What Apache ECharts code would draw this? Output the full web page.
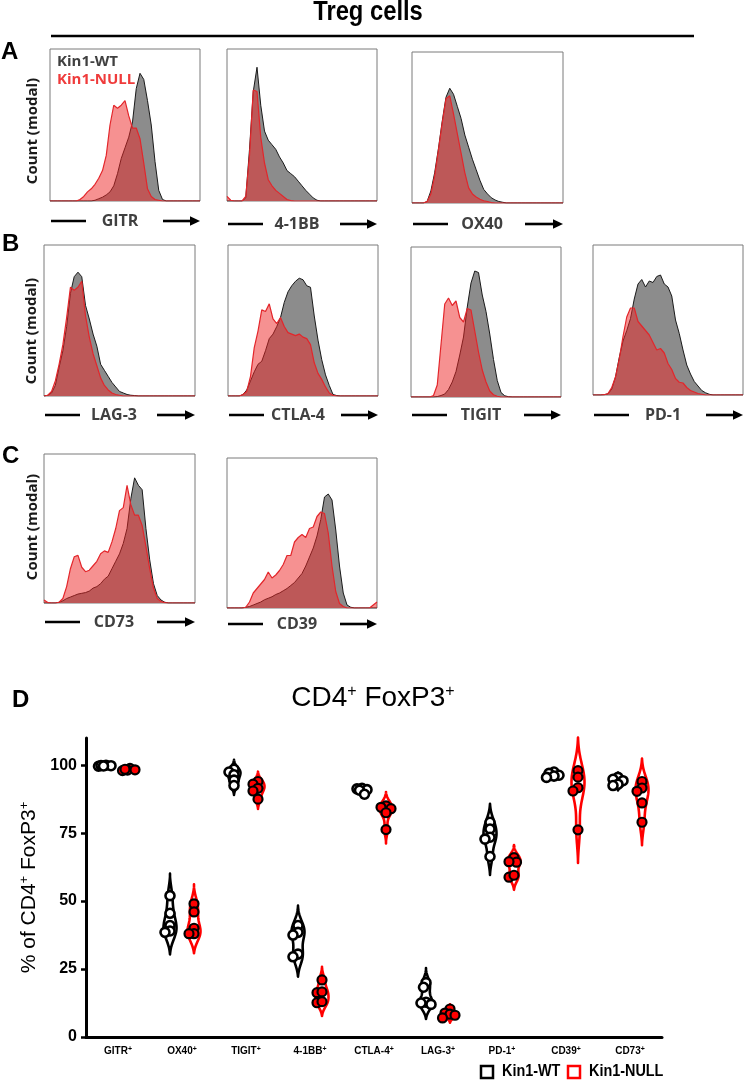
<!DOCTYPE html>
<html><head><meta charset="utf-8">
<script src="https://cdn.jsdelivr.net/npm/echarts@6/dist/echarts.min.js"></script>
<style>html,body{margin:0;padding:0;background:#fff}#c{width:748px;height:1080px}</style>
</head><body><div id="c"></div>
<script>
// ---------------- DATA ----------------
// histogram bin positions (fluorescence, % of plotted range)
const HIST_BINS = [0,2.5,5,7.5,10,12.5,15,17.5,20,22.5,25,27.5,30,32.5,35,37.5,40,42.5,45,47.5,50,52.5,55,57.5,60,62.5,65,67.5,70,72.5,75,77.5,80,82.5,85,87.5,90,92.5,95,97.5,100];
// Count (modal), % of panel height
const GITR_WT   = [0,0,0,0,0,0,0,0,0,0,0,0,0.5,1.5,2.5,4,6,10,18,28,35,42,52,74,84,80,66,50,26,7,1,0,0,0,0,0,0,0,0,0,0];
const GITR_NULL = [0,0,0,0,0,0,0,0,1,3,6,8,11,15,20,30,50,63,61,63,66,56,48,48,41,25,8,3,1,0.5,0,0,0,0,0,0,0,0,0,0,0];
const BB41_WT   = [0,0,0,0,0,2,34,72,88,63,46,40,37,34,29,25,20,18,16,13,10,7,4.5,2,0.5,0,0,0,0,0,0,0,0,0,0,0,0,0,0,0,0];
const BB41_NULL = [3,0.5,0,0,0,3,30,73,72,42,25,14,10,7,5,3,1,0.3,0,0,0,0,0,0,0,0,0,0,0,0,0,0,0,0,0,0,0,0,0,0,0];
const OX40_WT   = [0,0,0,0,1,8,20,36,54,70,76,72,64,56,45,37,29,22,15,9,6,3.5,2,1,0.5,0,0,0,0,0,0,0,0,0,0,0,0,0,0,0,0];
const OX40_NULL = [0,0,0,0,1,6,18,35,53,69,71,59,46,33,20,10,6,4,2.5,1.5,1,0.3,0,0,0,0,0,0,0,0,0,0,0,0,0,0,0,0,0,0,0];
const LAG3_WT   = [0,0.5,2,7,19,30,46,68,79,82,79,60,51,41,33,21,17,13,9,6,3,2,1,0.5,0.3,0,0,0,0,0,0,0,0,0,0,0,0,0,0,0,0];
const LAG3_NULL = [0,0.5,3,10,21,34,52,72,70,72,76,53,39,28,20,12,7,4,2,1,0.5,0,0,0,0,0,0,0,0,0,0,0,0,0,0,0,0,0,0,0,0];
const CTLA4_WT  = [0,0,0,0,1,4,10,16,21,23,30,38,41,46,52,62,69,73,76,78,77,73,72,53,37,24,14,7,1,0.3,0,0,0,0,0,0,0,0,0,0,0];
const CTLA4_NULL= [0,0,0,0,1,3,13,32,43,57,56,61,51,48,52,46,42,41,40,41,39,38,34,22,15,11,6,2,0.5,0,0,0,0,0,0,0,0,0,0,0,0];
const TIGIT_WT  = [0,0,0,0,0,0,0,0.3,1,2,5,10,17,28,40,60,76,84,83,68,57,42,25,11,3,0.8,0.2,0,0,0,0,0,0,0,0,0,0,0,0,0,0];
const TIGIT_NULL= [0,0,0,0,0,0,1,8,35,62,66,61,64,53,50,59,58,44,30,18,10,4,1.5,0.5,0,0,0,0,0,0,0,0,0,0,0,0,0,0,0,0,0];
const PD1_WT    = [0,0,0,0.2,0.8,4,12,25,36,43,51,64,74,77,72,76,75,79,80,74,72,66,50,41,30,20,14,9,6,3,1.5,0.5,0,0,0,0,0,0,0,0,0];
const PD1_NULL  = [0,0,0,0.2,1,5,12,24,39,52,58,58,49,46,43,40,35,30,31,28,21,17,11,8.5,8,5,3,2,1,0.5,0,0,0,0,0,0,0,0,0,0,0];
const CD73_WT   = [0,0,0,0,0.5,1.5,3,4,5,6,6.5,7,8,10,11,13,16,18,23,28,33,40,50,70,84,79,76,50,29,13,5,2,0.5,0,0,0,0,0,0,0,0];
const CD73_NULL = [2,0.3,0,0,0.5,3,11,23,31,32,24,21,22,25,28,33,35,34,41,50,62,64,79,66,59,59,52,38,23,10,3,1,0.3,0,0,0,0,0,0,0,0];
const CD39_WT   = [0,0,0,0,0,0.5,1,2,3,4,5.5,6.5,7.5,9,10,11.5,13,15,17,20,23,28,34,40,48,59,74,76,72,52,28,10,2,0.5,0,0,0,0,0,0,0];
const CD39_NULL = [0,0,0,0,0,0.5,4,10,13,16,19,24,20,22,25,29,35,35,44,47,49,47,53,54,61,64,63,50,28,11,3,1,0,0,0,0,0,0,0,2,4];

const HIST_NAMES = ['GITR','4-1BB','OX40','LAG-3','CTLA-4','TIGIT','PD-1','CD73','CD39'];
const HIST_WT    = [GITR_WT,BB41_WT,OX40_WT,LAG3_WT,CTLA4_WT,TIGIT_WT,PD1_WT,CD73_WT,CD39_WT];
const HIST_NULL  = [GITR_NULL,BB41_NULL,OX40_NULL,LAG3_NULL,CTLA4_NULL,TIGIT_NULL,PD1_NULL,CD73_NULL,CD39_NULL];

// Panel D: % of CD4+ FoxP3+
const D_CATEGORIES = ['GITR','OX40','TIGIT','4-1BB','CTLA-4','LAG-3','PD-1','CD39','CD73'];
const D_TICKS = [0,25,50,75,100];
const D_WT = [
  [100,99.8,99.6,99.9,99.7],
  [52,45.5,41,39,38.5],
  [98.5,97.5,96.5,94.5,92.5],
  [41,38.5,37.5,30.5,29.5],
  [91.5,91.3,91,90.8,89.3],
  [20,18.3,12.8,12,12.5],
  [79,76.5,73.5,72.8,66.4],
  [97.5,97,96.3,96,95.5],
  [95.5,94.8,94.3,93,92.5]
];
const D_NULL = [
  [98.8,98.2,98,98.5,98.3],
  [49,46,40,38,38],
  [94,93,91.5,90.5,87.5],
  [21,16.3,16.6,12.6,13],
  [85,84.5,84,82.5,76.3],
  [10.3,8.8,8.4,8,7],
  [66,64.3,64.5,58.8,59.5],
  [98,95.6,91.7,90.5,76.2],
  [94,91.6,90.4,86.1,79]
];

// ---------------- LAYOUT ----------------
const BOXES = [[50,49,150,152],[227,49,150,152],[412,52,151,151],
               [44,245,151,151],[228,245,150,151],[411,247,150,150],[593,245,150,150],
               [44,454,151,149],[227,458,150,150]];
const LABEL_Y = [221,224,224,415,415,415,415,622,624];
const ARIAL = "'Liberation Sans',Arial,sans-serif";
const CAL = "'Open Sans','Noto Sans',sans-serif";
const D_GRID = {left:86, top:738, width:576, height:299};
const Y_MAX = 110;
const OFFSET_UNITS = 12/64;

const grids=[], xAxes=[], yAxes=[], series=[], G=[];

BOXES.forEach((b,i)=>{
  grids.push({left:b[0],top:b[1],width:b[2],height:b[3],show:true,borderColor:'#7a7a7a',borderWidth:1,backgroundColor:'#fff'});
  xAxes.push({gridIndex:i,type:'value',min:0,max:100,show:false});
  yAxes.push({gridIndex:i,type:'value',min:0,max:100,show:false});
  series.push({type:'line',xAxisIndex:i,yAxisIndex:i,symbol:'none',silent:true,z:2,
    data:HIST_BINS.map((x,j)=>[x,HIST_WT[i][j]]),
    lineStyle:{color:'#1a1a1a',width:1},areaStyle:{color:'#8c8c8c',opacity:1}});
  series.push({type:'line',xAxisIndex:i,yAxisIndex:i,symbol:'none',silent:true,z:3,
    data:HIST_BINS.map((x,j)=>[x,HIST_NULL[i][j]]),
    lineStyle:{color:'#e3262b',width:1.2},areaStyle:{color:'rgba(238,35,35,0.5)',opacity:1}});
  const L=b[0], R=b[0]+b[2], Y=LABEL_Y[i];
  G.push({type:'line',shape:{x1:L+1,y1:Y,x2:L+36,y2:Y},style:{stroke:'#000',lineWidth:2.6}});
  G.push({type:'line',shape:{x1:L+113,y1:Y,x2:R-8,y2:Y},style:{stroke:'#000',lineWidth:2.6}});
  G.push({type:'polygon',shape:{points:[[R-10,Y-4.8],[R,Y],[R-10,Y+4.8]]},style:{fill:'#000'}});
  G.push({type:'text',x:L+70,y:Y,style:{text:HIST_NAMES[i],align:'center',verticalAlign:'middle',fill:'#404040',fontSize:16,fontWeight:'bold',fontFamily:CAL}});
});

// Panel D grid
const DI = BOXES.length;
grids.push({left:D_GRID.left,top:D_GRID.top,width:D_GRID.width,height:D_GRID.height});
xAxes.push({gridIndex:DI,type:'category',data:D_CATEGORIES,boundaryGap:true,
  axisLine:{lineStyle:{color:'#000',width:3}},
  axisTick:{alignWithLabel:true,interval:0,length:5,lineStyle:{color:'#000',width:2.5}},
  axisLabel:{interval:0,color:'#000',fontSize:10,fontWeight:'bold',fontFamily:ARIAL,margin:9,
    formatter:v=>v+'{s|+}',
    rich:{s:{fontSize:7,fontWeight:'bold',fontFamily:ARIAL,verticalAlign:'top',color:'#000'}}},
  splitLine:{show:false}});
xAxes.push({gridIndex:DI,type:'value',min:0,max:D_CATEGORIES.length,show:false});
yAxes.push({gridIndex:DI,type:'value',min:0,max:Y_MAX,interval:25,
  axisLine:{show:true,lineStyle:{color:'#000',width:3}},
  axisTick:{show:true,length:5,lineStyle:{color:'#000',width:2.5},customValues:D_TICKS},
  axisLabel:{color:'#000',fontSize:16,fontWeight:'bold',fontFamily:ARIAL,margin:9,customValues:D_TICKS},
  splitLine:{show:false},
  name:'% of CD4{s|+} FoxP3{s|+}',nameLocation:'middle',nameGap:24,nameRotate:90,
  nameTextStyle:{color:'#000',fontSize:21,fontFamily:ARIAL,
    rich:{s:{fontSize:13,fontFamily:ARIAL,verticalAlign:'top',color:'#000'}}}});

const pxPerY = D_GRID.height/Y_MAX;
const unitsPerPx = D_CATEGORIES.length/D_GRID.width;

function swarm(vals,cx){
  const order = vals.map((v,i)=>i).sort((a,b)=>vals[b]-vals[a]);
  const placed=[], out=new Array(vals.length);
  const cands=[0,-2.5,2.5,-5,5,-7.5,7.5];
  order.forEach(i=>{
    const y=vals[i]*pxPerY;
    let best=0,bestD=-1;
    for(const c of cands){
      const d = placed.length?Math.min(...placed.map(p=>Math.hypot(p.x-c,p.y-y))):99;
      if(d>=5){best=c;bestD=d;break;}
      if(d>bestD){bestD=d;best=c;}
    }
    placed.push({x:best,y});
    out[i]=[cx+best*unitsPerPx,vals[i]];
  });
  return out;
}
function violinShape(vals){
  const n=vals.length, mean=vals.reduce((a,b)=>a+b,0)/n;
  const sd=Math.sqrt(vals.reduce((a,v)=>a+(v-mean)*(v-mean),0)/(n-1));
  const h=Math.max(0.9*sd*Math.pow(n,-0.2),0.4);
  const lo=Math.min(...vals)-2.2*h, hi=Math.max(...vals)+2.2*h;
  const dens=y=>vals.reduce((a,v)=>a+Math.exp(-0.5*((y-v)/h)**2),0);
  const pts=[];
  for(let k=0;k<=80;k++){const y=lo+(hi-lo)*k/80; pts.push([y,dens(y)]);}
  const edge=Math.max(pts[0][1],pts[pts.length-1][1]);
  const mx=Math.max(...pts.map(p=>p[1]));
  return pts.map(([y,d])=>[y,Math.max(0,(d-edge)/(mx-edge))]);
}
const VIOLINS=[];
D_CATEGORIES.forEach((c,i)=>{
  VIOLINS.push({x:i+0.5-OFFSET_UNITS,color:'#000',shape:violinShape(D_WT[i])});
  VIOLINS.push({x:i+0.5+OFFSET_UNITS,color:'#ff0000',shape:violinShape(D_NULL[i])});
});
const HALF_W = 6.5;
series.push({type:'custom',xAxisIndex:DI+1,yAxisIndex:DI,z:5,silent:true,
  data:VIOLINS.map((v,k)=>[v.x,50,k]),
  renderItem:(params,api)=>{
    const g=VIOLINS[params.dataIndex];
    const L=[],R=[];
    g.shape.forEach(([y,w])=>{const p=api.coord([g.x,y]);L.push([p[0]-w*HALF_W,p[1]]);R.push([p[0]+w*HALF_W,p[1]]);});
    return {type:'polygon',shape:{points:L.concat(R.reverse())},
      style:{fill:'#fff',stroke:g.color,lineWidth:2.6,lineJoin:'round'}};
  }});
const wtPts=[], nullPts=[];
D_CATEGORIES.forEach((c,i)=>{
  wtPts.push(...swarm(D_WT[i],i+0.5-OFFSET_UNITS));
  nullPts.push(...swarm(D_NULL[i],i+0.5+OFFSET_UNITS));
});
series.push({type:'scatter',xAxisIndex:DI+1,yAxisIndex:DI,z:10,silent:true,symbol:'circle',symbolSize:9,
  data:wtPts,itemStyle:{color:'#fff',borderColor:'#000',borderWidth:2.6,opacity:1}});
series.push({type:'scatter',xAxisIndex:DI+1,yAxisIndex:DI,z:11,silent:true,symbol:'circle',symbolSize:9,
  data:nullPts,itemStyle:{color:'#ff0000',borderColor:'#000',borderWidth:2.2,opacity:1}});

// ---------------- TEXT / DECOR ----------------
G.push({type:'text',x:368,y:13,scaleX:0.88,style:{text:'Treg cells',align:'center',verticalAlign:'middle',fill:'#000',fontSize:27,fontWeight:'bold',fontFamily:ARIAL}});
G.push({type:'line',shape:{x1:51,y1:36,x2:694,y2:36},style:{stroke:'#000',lineWidth:2.6}});
[['A',1,52],['B',2,244],['C',2,456],['D',12,700]].forEach(([t,x,y])=>{
  G.push({type:'text',x,y,style:{text:t,align:'left',verticalAlign:'middle',fill:'#000',fontSize:24,fontWeight:'bold',fontFamily:ARIAL}});
});
[[33,131],[32,331],[33,527]].forEach(([x,y])=>{
  G.push({type:'text',x,y,rotation:Math.PI/2,style:{text:'Count (modal)',align:'center',verticalAlign:'middle',fill:'#1a1a1a',fontSize:15,fontWeight:'bold',fontFamily:CAL}});
});
G.push({type:'text',x:57,y:62,z:50,style:{text:'Kin1-WT',align:'left',verticalAlign:'middle',fill:'#404040',fontSize:15,fontWeight:'bold',fontFamily:CAL}});
G.push({type:'text',x:57,y:80,z:50,style:{text:'Kin1-NULL',align:'left',verticalAlign:'middle',fill:'#ef3b3b',fontSize:15,fontWeight:'bold',fontFamily:CAL}});
G.push({type:'text',x:373,y:698,style:{text:'CD4{s|+} FoxP3{s|+}',align:'center',verticalAlign:'middle',fill:'#000',fontSize:28,fontFamily:ARIAL,
  rich:{s:{fontSize:16,fontFamily:ARIAL,verticalAlign:'top',fill:'#000'}}}});
// legend
G.push({type:'rect',shape:{x:481,y:1066,width:12,height:12},style:{fill:'#fff',stroke:'#000',lineWidth:2.5}});
G.push({type:'text',x:502,y:1072,scaleX:0.9,style:{text:'Kin1-WT',align:'left',verticalAlign:'middle',fill:'#000',fontSize:16,fontWeight:'bold',fontFamily:ARIAL}});
G.push({type:'rect',shape:{x:568,y:1066,width:12,height:12},style:{fill:'#fff',stroke:'#ff0000',lineWidth:2.5}});
G.push({type:'text',x:589,y:1072,scaleX:0.9,style:{text:'Kin1-NULL',align:'left',verticalAlign:'middle',fill:'#000',fontSize:16,fontWeight:'bold',fontFamily:ARIAL}});

const chart = echarts.init(document.getElementById('c'),null,{renderer:'canvas'});
chart.setOption({animation:false,backgroundColor:'#fff',grid:grids,xAxis:xAxes,yAxis:yAxes,series,graphic:{elements:G}});
</script></body></html>
